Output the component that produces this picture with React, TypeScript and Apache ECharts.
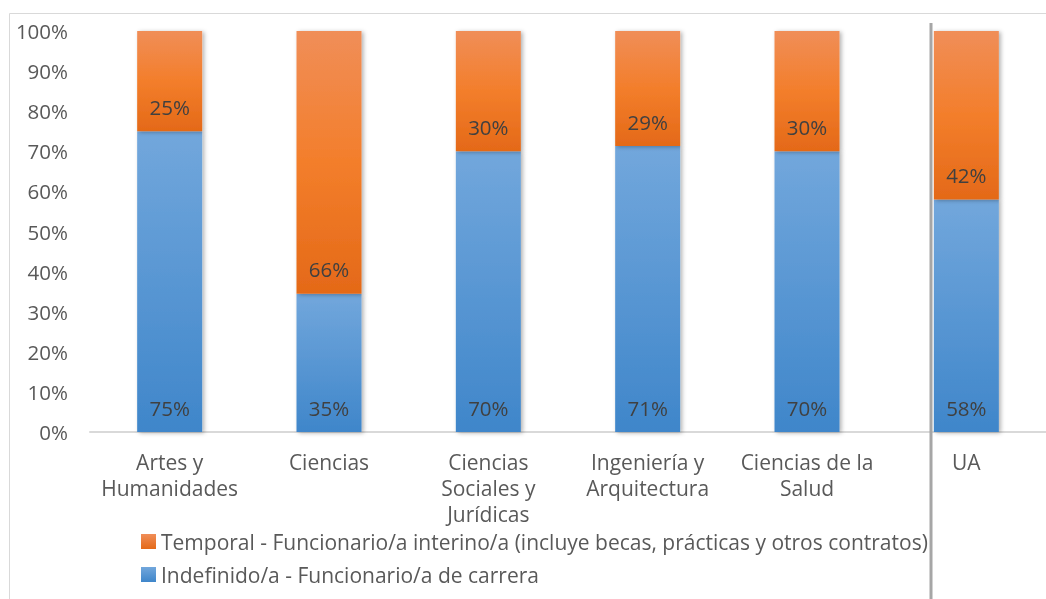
import React, { useEffect, useRef } from "react";
import * as echarts from "echarts";

const categories = [
  "Artes y\nHumanidades",
  "Ciencias",
  "Ciencias\nSociales y\nJurídicas",
  "Ingeniería y\nArquitectura",
  "Ciencias de la\nSalud",
  "UA",
];
const indefinido = [75, 34.5, 70, 71.3, 70, 58];
const temporal = [25, 65.5, 30, 28.7, 30, 42];
const yTicks = [0, 10, 20, 30, 40, 50, 60, 70, 80, 90, 100];

const nameTemporal =
  "Temporal - Funcionario/a interino/a (incluye becas, prácticas y otros contratos)";
const nameIndefinido = "Indefinido/a - Funcionario/a de carrera";

const FONT = "Open Sans";

export default function App() {
  const ref = useRef<HTMLDivElement>(null);
  useEffect(() => {
    const chart = echarts.init(ref.current!, null, { renderer: "svg" });
    const blue = new echarts.graphic.LinearGradient(0, 0, 0, 1, [
      { offset: 0, color: "#72a7dc" },
      { offset: 1, color: "#3f86ca" },
    ]);
    const orange = new echarts.graphic.LinearGradient(0, 0, 0, 1, [
      { offset: 0, color: "#f08e58" },
      { offset: 0.5, color: "#f37e2b" },
      { offset: 1, color: "#e46918" },
    ]);
    const blueLeg = new echarts.graphic.LinearGradient(0, 0, 0, 1, [
      { offset: 0, color: "#72a7dc" },
      { offset: 1, color: "#3f86ca" },
    ]);
    const orangeLeg = new echarts.graphic.LinearGradient(0, 0, 0, 1, [
      { offset: 0, color: "#f08e58" },
      { offset: 1, color: "#e46918" },
    ]);
    const label = {
      show: true,
      position: "insideBottom" as const,
      distance: 14,
      color: "#404040",
      fontFamily: FONT,
      fontSize: 20.5,
      formatter: (p: any) => Math.round(p.value) + "%",
    };
    const shadow = {
      shadowBlur: 4,
      shadowColor: "rgba(0,0,0,0.3)",
      shadowOffsetX: 2,
      shadowOffsetY: 1,
    };
    chart.setOption({
      animation: false,
      textStyle: { fontFamily: FONT },
      grid: { left: 90, top: 31, width: 972, height: 401 },
      legend: {
        orient: "vertical",
        left: 136,
        top: 526,
        itemWidth: 15,
        itemHeight: 15,
        itemGap: 12,
        icon: "rect",
        textStyle: {
          color: "#595959",
          fontSize: 21,
          fontFamily: FONT,
          lineHeight: 20,
        },
        data: [
          { name: nameTemporal, itemStyle: { color: orangeLeg } },
          { name: nameIndefinido, itemStyle: { color: blueLeg } },
        ],
      },
      xAxis: {
        type: "category",
        data: categories,
        axisLine: { lineStyle: { color: "#d9d9d9", width: 2 } },
        axisTick: { show: false },
        axisLabel: {
          color: "#595959",
          fontSize: 21,
          fontFamily: FONT,
          lineHeight: 26,
          margin: 17,
          interval: 0,
        },
      },
      yAxis: {
        type: "value",
        min: 0,
        max: 100,
        interval: 10,
        axisLine: { show: false },
        axisTick: { show: false },
        splitLine: { show: false },
        axisLabel: {
          color: "#595959",
          fontSize: 20.5,
          fontFamily: FONT,
          margin: 22,
          formatter: (v: number) => (yTicks.includes(v) ? v + "%" : ""),
        },
      },
      series: [
        {
          name: nameIndefinido,
          type: "bar",
          stack: "s",
          data: indefinido,
          barWidth: 65,
          itemStyle: { color: blue, ...shadow },
          label,
        },
        {
          name: nameTemporal,
          type: "bar",
          stack: "s",
          data: temporal,
          barWidth: 65,
          itemStyle: { color: orange, ...shadow },
          label,
        },
      ],
      graphic: [
        {
          type: "rect",
          shape: { x: 9.5, y: 13.5, width: 1100, height: 700 },
          style: { fill: "none", stroke: "#d9d9d9", lineWidth: 1 },
          silent: true,
          z: -1,
        },
        {
          type: "line",
          shape: { x1: 931, y1: 23, x2: 931, y2: 620 },
          style: { stroke: "#a6a6a6", lineWidth: 3 },
          silent: true,
          z: 10,
        },
      ],
    });
    return () => chart.dispose();
  }, []);
  return (
    <div
      ref={ref}
      style={{ position: "fixed", left: 0, top: 0, width: 1046, height: 599 }}
    />
  );
}
